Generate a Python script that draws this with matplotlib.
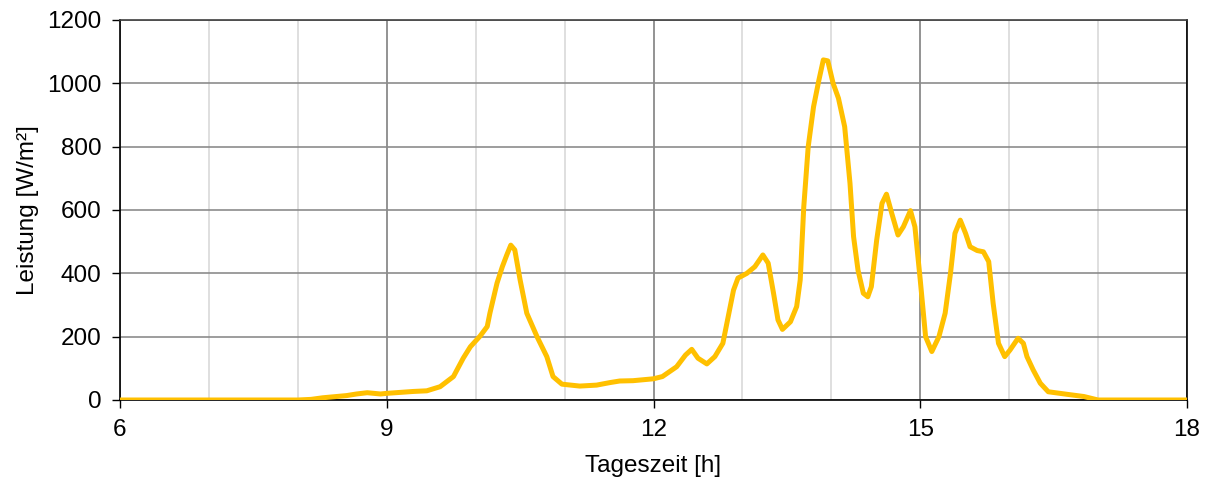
import matplotlib.pyplot as plt
from matplotlib.ticker import MultipleLocator

plt.rcParams['font.family'] = ['Liberation Sans', 'DejaVu Sans']

# Tageszeit [h] und Leistung [W/m²]
hours = [6.0, 8.0, 8.15, 8.28, 8.55, 8.66, 8.78, 8.93, 9.0, 9.30, 9.45, 9.6, 9.75,
         9.86, 9.94, 10.05, 10.13, 10.16, 10.24, 10.30, 10.35, 10.395, 10.44,
         10.50, 10.575, 10.69, 10.80, 10.87, 10.97, 11.17, 11.36, 11.51, 11.62,
         11.77, 12.0, 12.1, 12.26, 12.36, 12.43, 12.50, 12.60, 12.69, 12.78,
         12.84, 12.90, 12.95, 13.05, 13.14, 13.23, 13.29, 13.35, 13.40, 13.45,
         13.54, 13.61, 13.65, 13.69, 13.74, 13.80, 13.86, 13.91, 13.96, 14.02,
         14.08, 14.15, 14.21, 14.25, 14.30, 14.36, 14.41, 14.45, 14.51, 14.57,
         14.62, 14.68, 14.75, 14.81, 14.89, 14.94, 15.0, 15.06, 15.13, 15.21,
         15.28, 15.34, 15.39, 15.45, 15.51, 15.56, 15.64, 15.71, 15.77, 15.82,
         15.88, 15.95, 16.01, 16.10, 16.16, 16.20, 16.27, 16.35, 16.44, 16.65,
         16.84, 17.0, 18.0]
power = [0, 0, 2, 7, 14, 19, 23, 19, 21, 27, 29, 42, 74,
         132, 168, 202, 232, 274, 369, 421, 458, 489, 474,
         379, 274, 200, 137, 74, 50, 44, 47, 55, 60,
         61, 67, 74, 105, 142, 160, 132, 114, 137, 179,
         263, 347, 385, 400, 421, 458, 432, 337, 253, 223,
         247, 295, 379, 610, 800, 926, 1010, 1074, 1071, 1000,
         953, 863, 684, 516, 410, 337, 326, 358, 505, 621,
         650, 589, 521, 547, 598, 547, 379, 200, 153, 200,
         274, 400, 526, 568, 526, 484, 472, 468, 437, 305,
         179, 137, 158, 195, 179, 137, 95, 53, 26, 18,
         11, 0, 0]

fig = plt.figure(figsize=(12.11, 4.8), dpi=100)
ax = fig.add_axes([120 / 1211, 80 / 480, 1067 / 1211, 380 / 480])

ax.plot(hours, power, color='#FFC000', linewidth=3.6, solid_joinstyle='round',
        solid_capstyle='round', zorder=3)

ax.set_xlim(6, 18)
ax.set_ylim(0, 1200)
ax.set_xticks([6, 9, 12, 15, 18])
ax.xaxis.set_minor_locator(MultipleLocator(1))
ax.set_yticks(range(0, 1201, 200))

ax.grid(which='minor', axis='x', color='#d9d9d9', linewidth=1.2)
ax.grid(which='major', axis='x', color='#808080', linewidth=1.2)
ax.grid(which='major', axis='y', color='#8c8c8c', linewidth=1.2)
ax.set_axisbelow(True)

ax.tick_params(axis='both', which='major', direction='out', length=5.5, width=1,
               labelsize=17.5, colors='black')
ax.tick_params(axis='x', which='major', pad=8)
ax.tick_params(axis='y', which='major', pad=8)
ax.tick_params(axis='x', which='minor', length=0)

for s in ax.spines.values():
    s.set_color('black')
    s.set_linewidth(1.2)
ax.spines['top'].set_color('#404040')

ax.set_xlabel('Tageszeit [h]', fontsize=17.5, labelpad=10)
ax.set_ylabel('Leistung [W/m²]', fontsize=17.5, labelpad=6)

plt.savefig('out.png', dpi=100)
